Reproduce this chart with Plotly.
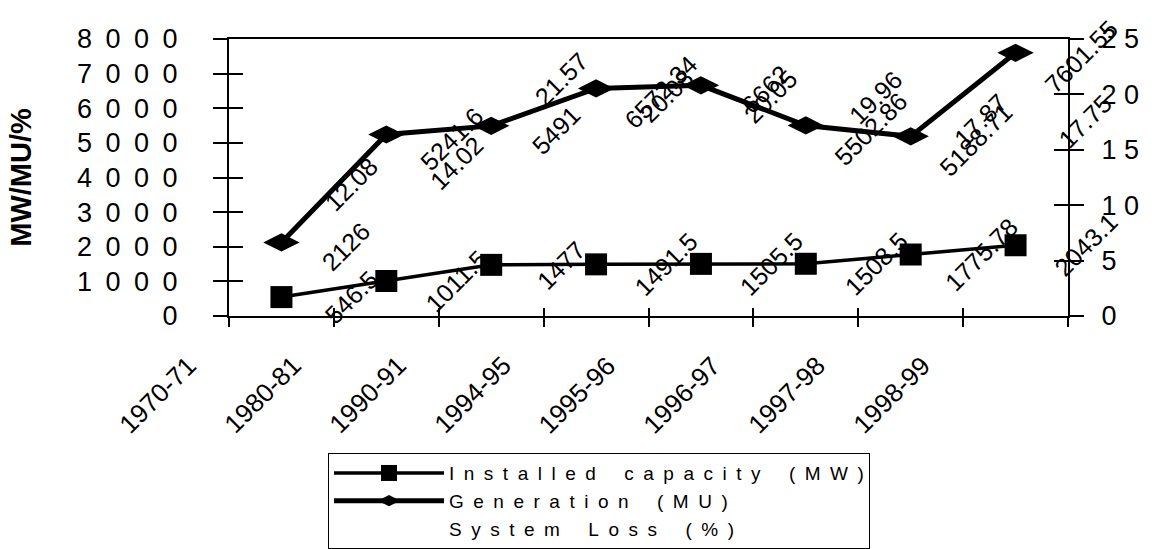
import plotly.graph_objects as go

categories = ["1970-71", "1980-81", "1990-91", "1994-95", "1995-96", "1996-97", "1997-98", "1998-99"]
installed = [546.5, 1011.5, 1477, 1491.5, 1505.5, 1508.5, 1775.78, 2043.1]
generation = [2126, 5241.6, 5491, 6572.34, 6662, 5502.86, 5188.71, 7601.55]
system_loss = [12.08, 14.02, 21.57, 20.08, 20.05, 19.96, 17.87, 17.75]
series_names = ["Installed capacity (MW)", "Generation (MU)", "System Loss (%)"]
left_ticks = [0, 1000, 2000, 3000, 4000, 5000, 6000, 7000, 8000]
right_ticks = [0, 5, 10, 15, 20, 25]

FONT = "Arial, Liberation Sans, sans-serif"


def spaced(s, sep="\u2002", word="\u2002\u2002\u2002"):
    return word.join(sep.join(list(w)) for w in s.split(" "))


def spaced_num(v, sep):
    return sep.join(list(str(v)))


n = len(categories)
idx = list(range(n))
fig = go.Figure()

fig.add_trace(go.Scatter(
    x=categories, y=installed, name=spaced(series_names[0]),
    mode="lines+markers",
    line=dict(color="black", width=3.5),
    marker=dict(symbol="square", size=22, color="black"),
))
fig.add_trace(go.Scatter(
    x=categories, y=generation, name=spaced(series_names[1]),
    mode="lines+markers",
    line=dict(color="black", width=5),
    marker=dict(symbol="diamond-wide", size=26, color="black"),
))
fig.add_trace(go.Scatter(
    x=categories, y=system_loss, name=spaced(series_names[2]),
    mode="lines", yaxis="y2",
    line=dict(color="rgba(0,0,0,0)", width=2),
))
# invisible helper traces so the overlay axes (inner halves of crossing ticks) are drawn
fig.add_trace(go.Scatter(x=idx, y=installed, xaxis="x3", yaxis="y3", mode="markers",
                         marker=dict(opacity=0), showlegend=False, hoverinfo="skip"))
fig.add_trace(go.Scatter(x=idx, y=system_loss, xaxis="x3", yaxis="y4", mode="markers",
                         marker=dict(opacity=0), showlegend=False, hoverinfo="skip"))

annotations = []
label_font = dict(family=FONT, size=25, color="black")
for cat, v in zip(categories, installed):
    annotations.append(dict(x=cat, y=v, xref="x", yref="y", text=str(v), showarrow=False,
                            textangle=-45, xshift=70, yshift=0, font=label_font))
for cat, v in zip(categories, generation):
    annotations.append(dict(x=cat, y=v, xref="x", yref="y", text=str(v), showarrow=False,
                            textangle=-45, xshift=65, yshift=-4, font=label_font))
for cat, v in zip(categories, system_loss):
    annotations.append(dict(x=cat, y=v, xref="x", yref="y2", text=str(v), showarrow=False,
                            textangle=-45, xshift=70, yshift=-2, font=label_font))
# category labels (sit offset to the left of their categories, as in the original)
for cat in categories:
    annotations.append(dict(x=cat, y=0, xref="x", yref="y", text=cat, showarrow=False,
                            textangle=-45, xshift=-124, yshift=-79,
                            font=dict(family=FONT, size=26, color="black")))

fig.update_layout(
    width=1155, height=549,
    margin=dict(l=229, r=87, t=39, b=233, autoexpand=False),
    paper_bgcolor="white", plot_bgcolor="white",
    font=dict(family=FONT, color="black"),
    showlegend=True,
    legend=dict(
        x=0.118, y=-0.495, xanchor="left", yanchor="top",
        bordercolor="black", borderwidth=1, bgcolor="white",
        font=dict(family=FONT, size=19, color="black"),
        itemwidth=110, tracegroupgap=0,
    ),
    xaxis=dict(
        type="category", range=[-0.5, n - 0.5], automargin=False,
        showline=True, linecolor="black", linewidth=2, mirror=True,
        ticks="outside", ticklen=9, tickwidth=1.5, tickcolor="black",
        tickson="boundaries", showticklabels=False, showgrid=False, zeroline=False,
    ),
    xaxis3=dict(
        overlaying="x", anchor="y", side="bottom", type="linear",
        range=[-0.5, n - 0.5], automargin=False,
        tickmode="array", tickvals=[i - 0.5 for i in range(n + 1)],
        ticks="inside", ticklen=8, tickwidth=1.5, tickcolor="black",
        showticklabels=False, showline=False, showgrid=False, zeroline=False,
    ),
    yaxis=dict(
        range=[0, 8000], tickmode="array", tickvals=left_ticks, automargin=False,
        ticktext=[spaced_num(v, "\u2002") for v in left_ticks],
        ticks="outside", ticklen=14, tickwidth=1.5, tickcolor="black",
        showline=True, linecolor="black", linewidth=2, showgrid=False, zeroline=False,
        tickfont=dict(family=FONT, size=27, color="black"),
        ticklabelstandoff=30,
        title=dict(text="<b>MW/MU/%</b>", font=dict(family=FONT, size=29, color="black"), standoff=37),
    ),
    yaxis2=dict(
        overlaying="y", side="right", anchor="x", automargin=False,
        range=[0, 25], tickmode="array", tickvals=right_ticks,
        ticktext=[spaced_num(v, " ") for v in right_ticks],
        ticks="outside", ticklen=14, tickwidth=1.5, tickcolor="black",
        showline=True, linecolor="black", linewidth=2, showgrid=False, zeroline=False,
        tickfont=dict(family=FONT, size=27, color="black"),
        ticklabelstandoff=12,
    ),
    yaxis3=dict(
        overlaying="y", side="left", anchor="x3", automargin=False,
        range=[0, 8000], tickmode="array", tickvals=left_ticks,
        ticks="inside", ticklen=14, tickwidth=1.5, tickcolor="black",
        showticklabels=False, showline=False, showgrid=False, zeroline=False,
    ),
    yaxis4=dict(
        overlaying="y", side="right", anchor="x3", automargin=False,
        range=[0, 25], tickmode="array", tickvals=right_ticks,
        ticks="inside", ticklen=14, tickwidth=1.5, tickcolor="black",
        showticklabels=False, showline=False, showgrid=False, zeroline=False,
    ),
    annotations=annotations,
)

fig.write_html("out.html", config={"displayModeBar": False},
               post_script="document.body.style.margin='0';")
